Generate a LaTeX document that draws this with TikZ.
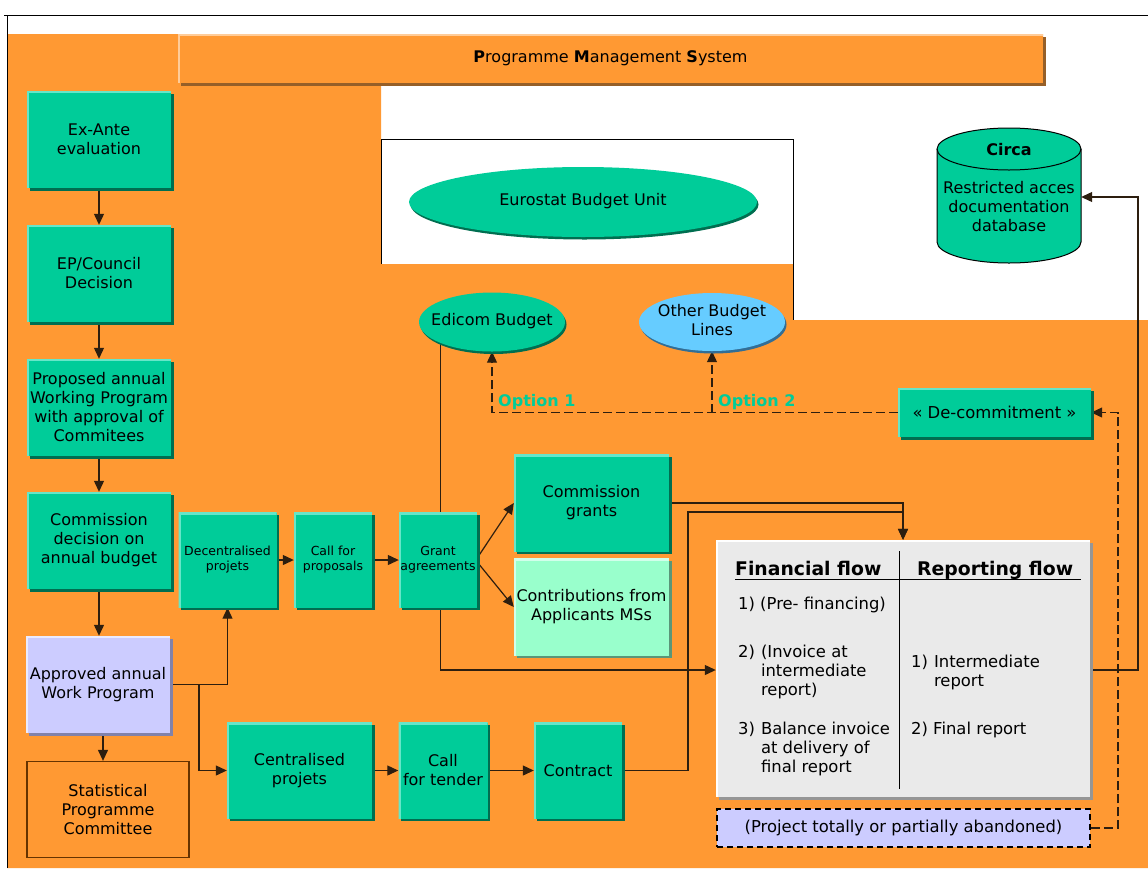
\documentclass[tikz,border=0pt]{standalone}
\usepackage{fontspec}
\setmainfont{DejaVu Sans}
\usetikzlibrary{shapes.geometric,shadows,arrows.meta,calc}
\definecolor{org}{RGB}{255,153,51}
\definecolor{orgdk}{RGB}{150,95,40}
\definecolor{orglt}{RGB}{255,204,153}
\definecolor{gr}{RGB}{0,204,153}
\definecolor{grdk}{RGB}{0,110,80}
\definecolor{grlt}{RGB}{102,230,200}
\definecolor{lav}{RGB}{204,204,255}
\definecolor{lavdk}{RGB}{130,130,170}
\definecolor{lavlt}{RGB}{235,235,255}
\definecolor{mint}{RGB}{153,255,204}
\definecolor{mintdk}{RGB}{90,150,120}
\definecolor{mintlt}{RGB}{210,255,235}
\definecolor{sky}{RGB}{102,204,255}
\definecolor{skydk}{RGB}{50,110,150}
\definecolor{pale}{RGB}{234,234,234}
\definecolor{paledk}{RGB}{150,150,150}
\definecolor{lncol}{RGB}{45,30,15}
\definecolor{brd}{RGB}{102,51,0}
\newcommand\fsN{\fontsize{16}{19}\selectfont}
\newcommand\fsS{\fontsize{12.5}{15}\selectfont}
\newcommand\fsF{\fontsize{16.4}{19}\selectfont}
\newcommand\fsH{\fontsize{18.8}{21}\selectfont}
\newcommand\zb[1]{\makebox[0pt]{\begin{tabular}{@{}c@{}}#1\end{tabular}}}
\pgfdeclarelayer{bg}\pgfdeclarelayer{conn}\pgfsetlayers{bg,conn,main}
\begin{document}
\begin{tikzpicture}[x=1pt,y=-1pt,
  arr/.style={draw=lncol, line width=1.2pt, -{Triangle[length=11pt,width=10pt]}},
  plain/.style={draw=lncol, line width=1.2pt},
  dsh/.style={dash pattern=on 9pt off 4pt},
  tb/.style n args={3}{rectangle, fill=#1, inner sep=1pt, align=center, font=\fsN,
     general shadow={fill=#2, shadow xshift=2.5pt, shadow yshift=-2.5pt},
     path picture={\draw[line width=4pt,#3] (path picture bounding box.south west) |- (path picture bounding box.north east);}},
  gbox/.style={tb={gr}{grdk}{grlt}},
  wA/.style={minimum width=144pt, minimum height=97pt},
  ell/.style 2 args={ellipse, fill=#1, inner sep=0pt, font=\fsN,
     general shadow={fill=#2, shadow xshift=1.5pt, shadow yshift=-2.5pt}},
  opt/.style={font=\fsN\bfseries, text=gr, inner sep=0pt},
]
\useasboundingbox (0,0) rectangle (1148,868);
\begin{pgfonlayer}{bg}
\fill[white] (0,0) rectangle (1148,868);
\fill[org] (7,34) -- (1043,34) -- (1043,84) -- (381,84) -- (381,264) -- (793,264) -- (793,320) -- (1148,320) -- (1148,868) -- (7,868) -- cycle;
\draw[line width=1pt] (4,15) -- (1148,15);
\draw[line width=1pt] (7,15) -- (7,868);
\draw[line width=0.9pt] (381,264) -- (381,139) -- (793,139) -- (793,320);
\end{pgfonlayer}

% title
\node[tb={org}{orgdk}{orglt}, minimum width=865pt, minimum height=49pt] (title) at (610.5,58.5) {\textbf{P}rogramme \textbf{M}anagement \textbf{S}ystem};

% left column
\node[gbox,wA] (exante) at (99,139.5) {Ex-Ante\\evaluation};
\node[gbox,wA] (epc) at (99,273.5) {EP/Council\\Decision};
\node[gbox,wA] (prop) at (99,407.5) {Proposed annual\\Working Program\\with approval of\\Commitees};
\node[gbox,wA] (comm) at (99,540.5) {Commission\\decision on\\annual budget};
\node[tb={lav}{lavdk}{lavlt},wA] (appr) at (98,684.5) {Approved annual\\Work Program};
\node[rectangle, fill=org, draw=brd, line width=1.3pt, minimum width=162pt, minimum height=96pt, font=\fsN, align=center] (stat) at (108,809.5) {Statistical\\Programme\\Committee};

% middle
\node[gbox, minimum width=98pt, minimum height=95pt, font=\fsS] (dec) at (227.5,560) {Decentralised\\projets};
\node[gbox, minimum width=78pt, minimum height=95pt, font=\fsS] (cfp) at (333,560) {Call for\\proposals};
\node[gbox, minimum width=78pt, minimum height=95pt, font=\fsS, inner sep=0pt] (grant) at (438,560) {Grant\\agreements};
\node[gbox, minimum width=155pt, minimum height=97pt] (cgr) at (591.5,503) {Commission\\grants};
\node[tb={mint}{mintdk}{mintlt}, minimum width=155pt, minimum height=97pt] (contr) at (591.5,607) {Contributions from\\Applicants MSs};
\node[gbox, minimum width=145pt, minimum height=96pt] (cen) at (299.5,770.5) {Centralised\\projets};
\node[gbox, minimum width=89pt, minimum height=96pt] (cft) at (443,770.5) {Call\\for tender};
\node[gbox, minimum width=88pt, minimum height=96pt] (ctr) at (578,770.5) {Contract};

% ellipses
\node[ell={gr}{grdk}, minimum width=348pt, minimum height=70pt] (eu) at (583,202) {\zb{Eurostat Budget Unit}};
\node[ell={gr}{grdk}, minimum width=146pt, minimum height=59pt] (edicom) at (492,322) {\zb{Edicom Budget}};
\node[ell={sky}{skydk}, minimum width=146pt, minimum height=58pt] (other) at (712,322) {\zb{Other Budget\\Lines}};

% Circa cylinder
\path[fill=gr, draw=black, line width=1pt] (937,149) -- (937,242) arc[start angle=180, end angle=360, x radius=72pt, y radius=21pt] -- (1081,149) arc[start angle=0, end angle=180, x radius=72pt, y radius=21pt] -- cycle;
\draw[line width=1pt] (937,149) arc[start angle=180, end angle=360, x radius=72pt, y radius=21pt];
\node[minimum width=144pt, minimum height=138pt, inner sep=0pt] (circa) at (1009,196) {};
\node[font=\fsN\bfseries] (circat) at (1009,150) {Circa};
\node[font=\fsN, align=center] (circab) at (1009,207) {Restricted acces\\documentation\\database};

% de-commitment
\node[gbox, minimum width=193pt, minimum height=49pt, font=\fsF] (decom) at (994.5,412.5) {« De-commitment »};
\node[opt, anchor=west] (o1) at (498,402) {Option 1};
\node[opt, anchor=west] (o2) at (718,402) {Option 2};

% financial box
\node[tb={pale}{paledk}{white}, minimum width=374pt, minimum height=257pt] (fin) at (903,668.5) {};
\draw[line width=1pt] (735,579) -- (1081,579);
\draw[line width=1pt] (899,551) -- (899,789);
\node[font=\fsH\bfseries, anchor=base west, inner sep=0pt] (hf) at (735,575) {Financial flow};
\node[font=\fsH\bfseries, anchor=base west, inner sep=0pt] (hr) at (917,575) {Reporting flow};
\node[font=\fsF, anchor=base west, inner sep=0pt] (f1) at (738,609.5) {1) (Pre- financing)};
\node[font=\fsF, anchor=base west, inner sep=0pt] (f2) at (738,657.5) {\begin{tabular}[t]{@{}l@{\hspace{6pt}}l@{}}2) & (Invoice at\\ & intermediate\\ & report)\end{tabular}};
\node[font=\fsF, anchor=base west, inner sep=0pt] (f3) at (738,734.5) {\begin{tabular}[t]{@{}l@{\hspace{6pt}}l@{}}3) & Balance invoice\\ & at delivery of\\ & final report\end{tabular}};
\node[font=\fsF, anchor=base west, inner sep=0pt] (r1) at (911,667.5) {\begin{tabular}[t]{@{}l@{\hspace{6pt}}l@{}}1) & Intermediate\\ & report\end{tabular}};
\node[font=\fsF, anchor=base west, inner sep=0pt] (r2) at (911,734.5) {2) Final report};

% abandoned
\node[rectangle, fill=lav, draw=black, line width=1.5pt, dash pattern=on 6pt off 4pt, minimum width=373pt, minimum height=38pt, font=\fsF] (abandon) at (903.5,828) {(Project totally or partially abandoned)};

% connectors
\begin{pgfonlayer}{conn}
\draw[arr] (exante) -- (epc);
\draw[arr] (epc) -- (prop);
\draw[arr] (prop) -- (comm);
\draw[arr] (comm) -- (appr.north -| comm.south);
\draw[arr] ([xshift=5pt]appr.south) -- ([xshift=5pt]appr.south |- stat.north);
\draw[arr] (appr.east) -| (dec.south);
\coordinate (br) at (199,684.5);
\draw[arr] (br) |- (cen.west);
\draw[arr] (dec) -- (cfp);
\draw[arr] (cfp) -- (grant);
\draw[arr] ([yshift=2pt]grant.east) -- (cgr.west);
\draw[arr] ([yshift=-2pt]grant.east) -- (contr.west);
\draw[arr] (cen) -- (cft);
\draw[arr] (cft) -- (ctr);
\draw[plain] ([xshift=2.5pt]grant.north) -- ([xshift=2.5pt]grant.north |- edicom.center);
\draw[arr] ([xshift=2.5pt]grant.south) |- ([yshift=-1.5pt]fin.west);
\draw[arr] (cgr.east) -| (fin.north);
\coordinate (cj) at (688,512);
\draw[arr] (ctr.east) -| (cj) -| (fin.north);
\coordinate (cr) at (1138,197);
\draw[arr] ([yshift=-1.5pt]fin.east) -| (cr) -- (circa.east |- cr);
\coordinate (dr) at (1118,412.5);
\draw[arr,dsh] (abandon.east) -| (dr) -- (decom.east);
\draw[arr,dsh] (decom.west) -| (edicom.south);
\draw[arr,dsh] (decom.west -| other.south) -- (other.south);
\end{pgfonlayer}
\end{tikzpicture}
\end{document}
